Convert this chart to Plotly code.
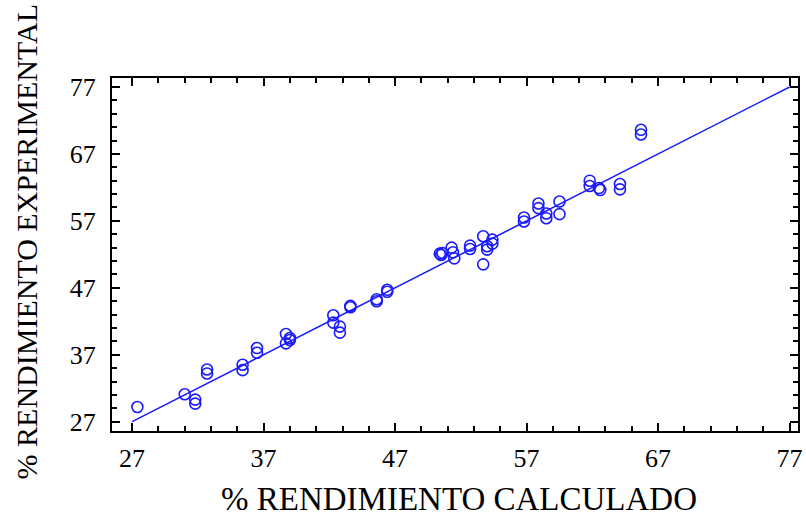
import plotly.graph_objects as go

calc = [27.4, 31.0, 31.8, 31.8, 32.7, 32.7, 35.4, 35.4, 36.5, 36.5,
        38.7, 38.7, 39.0, 39.0, 42.3, 42.3, 42.8, 42.8, 43.6, 43.6,
        45.6, 45.6, 46.4, 46.4, 50.4, 50.6, 50.5, 51.3, 51.4, 51.5,
        52.7, 52.7, 53.7, 53.7, 54.0, 54.0, 54.4, 54.4, 56.8, 56.8,
        57.9, 57.9, 58.5, 58.5, 59.5, 59.5, 61.8, 61.8, 62.5, 62.6,
        64.1, 64.1, 65.7, 65.7]
expe = [29.2, 31.1, 30.3, 29.7, 34.8, 34.2, 35.5, 34.7, 38.0, 37.3,
        40.1, 38.7, 39.5, 39.2, 42.9, 41.8, 41.2, 40.3, 44.3, 44.1,
        45.3, 45.0, 46.7, 46.4, 52.1, 52.2, 51.9, 53.0, 52.3, 51.4,
        53.3, 52.8, 54.7, 50.5, 52.7, 53.2, 54.2, 53.6, 57.5, 56.9,
        59.6, 58.9, 58.1, 57.4, 59.9, 58.0, 63.0, 62.2, 61.9, 61.6,
        62.5, 61.7, 70.6, 69.9]
fit_x = [27, 77]
fit_y = [27, 77]
ticks = [27, 37, 47, 57, 67, 77]

BLUE = "#1a1aff"
FONT = "Liberation Serif"

fig = go.Figure()
fig.add_trace(go.Scatter(x=fit_x, y=fit_y, mode="lines",
                         line=dict(color=BLUE, width=1.5), hoverinfo="skip"))
fig.add_trace(go.Scatter(x=calc, y=expe, mode="markers",
                         marker=dict(symbol="circle-open", size=11, color=BLUE,
                                     line=dict(width=1.6, color=BLUE))))

axis_common = dict(
    tickvals=ticks, ticktext=[str(t) for t in ticks],
    showline=True, linecolor="black", linewidth=2, mirror="allticks",
    ticks="inside", ticklen=8, tickwidth=1.5, tickcolor="black",
    showgrid=False, zeroline=False,
    tickfont=dict(family=FONT, size=26, color="black"),
    minor=dict(dtick=2, tick0=27, ticks="inside", ticklen=5, tickwidth=1.5,
               tickcolor="black", showgrid=False),
)
fig.update_xaxes(range=[25.47, 77.64], ticklabelstandoff=3, **axis_common)
fig.update_yaxes(range=[25.61, 78.34], ticklabelstandoff=9, **axis_common)

fig.add_annotation(text="% RENDIMIENTO CALCULADO", xref="paper", yref="paper",
                   x=0.5065, y=-0.1925, xanchor="center", yanchor="middle",
                   showarrow=False,
                   font=dict(family=FONT, size=33, color="black"))
fig.add_annotation(text="% RENDIMIENTO EXPERIMENTAL", xref="paper", yref="paper",
                   x=-0.124, y=0.537, xanchor="center", yanchor="middle",
                   showarrow=False, textangle=-90,
                   font=dict(family=FONT, size=30, color="black"))

fig.update_layout(width=806, height=517, showlegend=False,
                  margin=dict(l=112, r=3, t=78, b=86),
                  plot_bgcolor="white", paper_bgcolor="white")
fig.write_html("out.html")
